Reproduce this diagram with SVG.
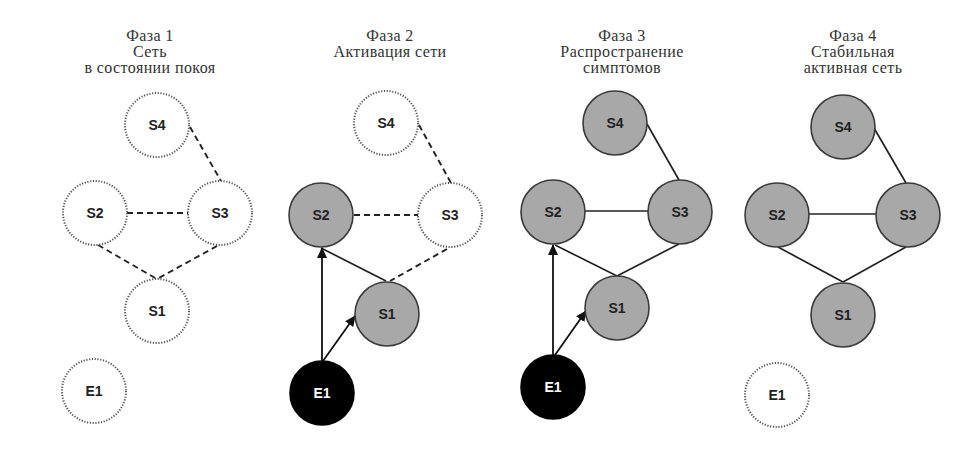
<svg xmlns="http://www.w3.org/2000/svg" width="967" height="459" viewBox="0 0 967 459">
<defs>
<style>
.title{font-family:"Liberation Serif","DejaVu Serif","Times New Roman",serif;font-weight:normal;font-size:16px;letter-spacing:0.4px;fill:#333;text-anchor:middle}
.lbl{font-family:"Liberation Sans",Arial,sans-serif;font-size:14px;font-weight:bold;fill:#222;text-anchor:middle;dominant-baseline:central}
.lblw{font-family:"Liberation Sans",Arial,sans-serif;font-size:14px;font-weight:bold;fill:#fff;text-anchor:middle;dominant-baseline:central}
.idle{fill:#fff;stroke:#555;stroke-width:2;stroke-dasharray:1.2 1.6}
.act{fill:#a8a8a8;stroke:#3a3a3a;stroke-width:1.6}
.ext{fill:#000;stroke:#000;stroke-width:1.6}
.dash{stroke:#222;stroke-width:1.9;stroke-dasharray:6 4;fill:none}
.solid{stroke:#222;stroke-width:1.7;fill:none}
.arr{stroke:#111;stroke-width:1.8;fill:none;marker-end:url(#ah)}
</style>
<marker id="ah" markerUnits="userSpaceOnUse" markerWidth="11" markerHeight="10" refX="10" refY="5" orient="auto">
<path d="M0,0 L11,5 L0,10 z" fill="#111"/>
</marker>
</defs>
<rect width="967" height="459" fill="#fff"/>

<g id="titles">
<text class="title" x="150" y="41">Фаза 1</text>
<text class="title" x="150" y="57">Сеть</text>
<text class="title" x="150" y="73">в состоянии покоя</text>
<text class="title" x="390" y="41">Фаза 2</text>
<text class="title" x="390" y="57">Активация сети</text>
<text class="title" x="622" y="41">Фаза 3</text>
<text class="title" x="622" y="57">Распространение</text>
<text class="title" x="622" y="73">симптомов</text>
<text class="title" x="853" y="41">Фаза 4</text>
<text class="title" x="853" y="57">Стабильная</text>
<text class="title" x="853" y="73">активная сеть</text>
</g>

<g id="connectors">
<!-- phase 1 -->
<line class="dash" x1="190" y1="127" x2="221" y2="181"/>
<line class="dash" x1="127" y1="213" x2="188" y2="213"/>
<line class="dash" x1="98" y1="245" x2="157" y2="279"/>
<line class="dash" x1="217" y1="246" x2="157" y2="279"/>
<!-- phase 2 -->
<line class="dash" x1="419" y1="125" x2="451" y2="183"/>
<line class="dash" x1="354" y1="215" x2="418" y2="215"/>
<line class="dash" x1="447" y1="249" x2="390" y2="281"/>
<line class="solid" x1="321" y1="248" x2="386" y2="281"/>
<line class="arr" x1="322" y1="361" x2="322" y2="248"/>
<line class="arr" x1="323" y1="361" x2="355" y2="316"/>
<!-- phase 3 -->
<line class="solid" x1="647" y1="124" x2="679" y2="180"/>
<line class="solid" x1="585" y1="211" x2="648" y2="211"/>
<line class="solid" x1="555" y1="245" x2="617" y2="276"/>
<line class="solid" x1="679" y1="244" x2="617" y2="276"/>
<line class="arr" x1="553" y1="355" x2="553" y2="245"/>
<line class="arr" x1="555" y1="355" x2="586" y2="311"/>
<!-- phase 4 -->
<line class="solid" x1="874" y1="128" x2="906" y2="183"/>
<line class="solid" x1="809" y1="214" x2="876" y2="214"/>
<line class="solid" x1="778" y1="247" x2="843" y2="282"/>
<line class="solid" x1="906" y1="247" x2="843" y2="282"/>
</g>

<g id="phase1">
<g id="p1-S4"><circle class="idle" cx="157" cy="125" r="32"/><text class="lbl" x="157" y="125">S4</text></g>
<g id="p1-S2"><circle class="idle" cx="95" cy="213" r="32"/><text class="lbl" x="95" y="213">S2</text></g>
<g id="p1-S3"><circle class="idle" cx="220" cy="213" r="32"/><text class="lbl" x="220" y="213">S3</text></g>
<g id="p1-S1"><circle class="idle" cx="157" cy="311" r="32"/><text class="lbl" x="157" y="311">S1</text></g>
<g id="p1-E1"><circle class="idle" cx="94" cy="391" r="32"/><text class="lbl" x="94" y="391">E1</text></g>
</g>

<g id="phase2">
<g id="p2-S4"><circle class="idle" cx="386" cy="123" r="32"/><text class="lbl" x="386" y="123">S4</text></g>
<g id="p2-S2"><circle class="act" cx="321" cy="215" r="32"/><text class="lbl" x="321" y="215">S2</text></g>
<g id="p2-S3"><circle class="idle" cx="450" cy="215" r="32"/><text class="lbl" x="450" y="215">S3</text></g>
<g id="p2-S1"><circle class="act" cx="387" cy="314" r="32"/><text class="lbl" x="387" y="314">S1</text></g>
<g id="p2-E1"><circle class="ext" cx="322" cy="393" r="32"/><text class="lblw" x="322" y="393">E1</text></g>
</g>

<g id="phase3">
<g id="p3-S4"><circle class="act" cx="615" cy="123" r="32"/><text class="lbl" x="615" y="123">S4</text></g>
<g id="p3-S2"><circle class="act" cx="553" cy="212" r="32"/><text class="lbl" x="553" y="212">S2</text></g>
<g id="p3-S3"><circle class="act" cx="680" cy="212" r="32"/><text class="lbl" x="680" y="212">S3</text></g>
<g id="p3-S1"><circle class="act" cx="617" cy="308" r="32"/><text class="lbl" x="617" y="308">S1</text></g>
<g id="p3-E1"><circle class="ext" cx="553" cy="387" r="32"/><text class="lblw" x="553" y="387">E1</text></g>
</g>

<g id="phase4">
<g id="p4-S4"><circle class="act" cx="843" cy="127" r="32"/><text class="lbl" x="843" y="127">S4</text></g>
<g id="p4-S2"><circle class="act" cx="777" cy="215" r="32"/><text class="lbl" x="777" y="215">S2</text></g>
<g id="p4-S3"><circle class="act" cx="908" cy="215" r="32"/><text class="lbl" x="908" y="215">S3</text></g>
<g id="p4-S1"><circle class="act" cx="843" cy="315" r="32"/><text class="lbl" x="843" y="315">S1</text></g>
<g id="p4-E1"><circle class="idle" cx="777" cy="395" r="32"/><text class="lbl" x="777" y="395">E1</text></g>
</g>
</svg>
